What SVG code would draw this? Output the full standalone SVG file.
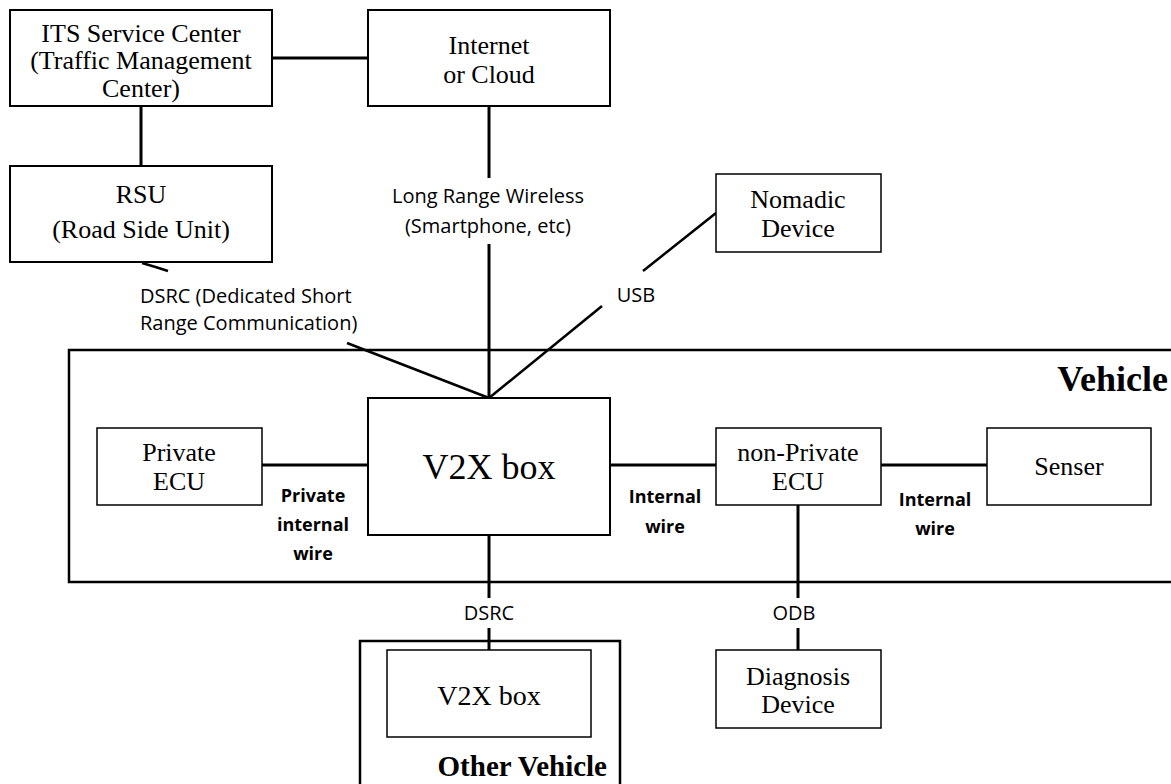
<svg xmlns="http://www.w3.org/2000/svg" width="1171" height="784" viewBox="0 0 1171 784">
<style>
.box{fill:#fff;stroke:#000;stroke-width:2}
.thin{fill:#fff;stroke:#000;stroke-width:1.5}
.frame{fill:none;stroke:#000;stroke-width:2.5}
.ln{stroke:#000;stroke-width:3;fill:none}
.dg{stroke:#000;stroke-width:2.5;fill:none}
.sr{font-family:"Liberation Serif","DejaVu Serif",serif;font-size:26px;text-anchor:middle;fill:#000}
.ss{font-family:"Open Sans","Liberation Sans",sans-serif;font-size:20px;text-anchor:middle;fill:#000}
.sb{font-family:"Open Sans","Liberation Sans",sans-serif;font-size:18px;font-weight:bold;text-anchor:middle;fill:#000}
.big{font-family:"Liberation Serif","DejaVu Serif",serif;font-weight:bold;fill:#000;text-anchor:end}
</style>
<rect width="1171" height="784" fill="#fff"/>
<g id="vehicle">
<rect class="frame" x="69" y="350" width="1110" height="232"/>
<text class="big" x="1168" y="391" style="font-size:36px">Vehicle</text>
</g>
<g id="other-vehicle">
<rect class="frame" x="360" y="641" width="260" height="150"/>
<text class="big" x="607" y="776" style="font-size:29px">Other Vehicle</text>
</g>
<g id="connectors">
<line class="ln" x1="272" y1="58" x2="368" y2="58"/>
<line class="ln" x1="141" y1="106" x2="141" y2="166"/>
<line class="ln" x1="489" y1="106" x2="489" y2="178"/>
<line class="ln" x1="489" y1="244" x2="489" y2="398"/>
<line class="dg" x1="716" y1="213" x2="643" y2="271"/>
<line class="dg" x1="602" y1="306" x2="489" y2="398"/>
<path class="dg" d="M142 263 Q156 267 168 271"/>
<line class="dg" x1="347" y1="343" x2="489" y2="398"/>
<line class="ln" x1="262" y1="465" x2="368" y2="465"/>
<line class="ln" x1="610" y1="465" x2="716" y2="465"/>
<line class="ln" x1="881" y1="465" x2="987" y2="465"/>
<line class="ln" x1="489" y1="535" x2="489" y2="598"/>
<line class="ln" x1="489" y1="628" x2="489" y2="651"/>
<line class="ln" x1="798" y1="505" x2="798" y2="598"/>
<line class="ln" x1="798" y1="628" x2="798" y2="651"/>
<text class="ss" x="488" y="203">Long Range Wireless</text>
<text class="ss" x="488" y="233">(Smartphone, etc)</text>
<text class="ss" x="636" y="302">USB</text>
<text class="ss" x="140" y="303" style="text-anchor:start">DSRC (Dedicated Short</text>
<text class="ss" x="140" y="330" style="text-anchor:start">Range Communication)</text>
<text class="sb" x="313" y="502">Private</text>
<text class="sb" x="313" y="531">internal</text>
<text class="sb" x="313" y="560">wire</text>
<text class="sb" x="665" y="503">Internal</text>
<text class="sb" x="665" y="533">wire</text>
<text class="sb" x="935" y="506">Internal</text>
<text class="sb" x="935" y="535">wire</text>
<text class="ss" x="489" y="620">DSRC</text>
<text class="ss" x="794" y="620">ODB</text>
</g>
<g id="its-center">
<rect class="box" x="10" y="10" width="262" height="96"/>
<text class="sr" x="141" y="42">ITS Service Center</text>
<text class="sr" x="141" y="69">(Traffic Management</text>
<text class="sr" x="141" y="97">Center)</text>
</g>
<g id="internet">
<rect class="box" x="368" y="10" width="242" height="96"/>
<text class="sr" x="489" y="54">Internet</text>
<text class="sr" x="489" y="83">or Cloud</text>
</g>
<g id="rsu">
<rect class="box" x="10" y="166" width="262" height="96"/>
<text class="sr" x="141" y="203">RSU</text>
<text class="sr" x="141" y="238">(Road Side Unit)</text>
</g>
<g id="nomadic">
<rect class="thin" x="716" y="174" width="165" height="78"/>
<text class="sr" x="798" y="208">Nomadic</text>
<text class="sr" x="798" y="237">Device</text>
</g>
<g id="v2x">
<rect class="box" x="368" y="398" width="242" height="137"/>
<text class="sr" x="489" y="479" style="font-size:36px">V2X box</text>
</g>
<g id="private-ecu">
<rect class="thin" x="97" y="428" width="165" height="77"/>
<text class="sr" x="179" y="461">Private</text>
<text class="sr" x="179" y="490">ECU</text>
</g>
<g id="nonprivate-ecu">
<rect class="thin" x="716" y="428" width="165" height="77"/>
<text class="sr" x="798" y="461">non-Private</text>
<text class="sr" x="798" y="490">ECU</text>
</g>
<g id="senser">
<rect class="thin" x="987" y="428" width="164" height="77"/>
<text class="sr" x="1069" y="475">Senser</text>
</g>
<g id="other-v2x">
<rect class="thin" x="387" y="650" width="204" height="87"/>
<text class="sr" x="489" y="705" style="font-size:28px">V2X box</text>
</g>
<g id="diagnosis">
<rect class="thin" x="716" y="650" width="165" height="78"/>
<text class="sr" x="798" y="685">Diagnosis</text>
<text class="sr" x="798" y="713">Device</text>
</g>
</svg>
